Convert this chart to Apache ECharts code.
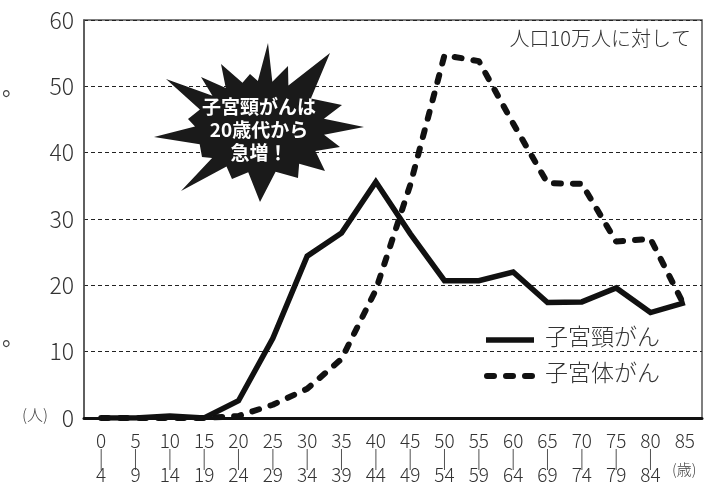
<!DOCTYPE html>
<html><head><meta charset="utf-8">
<script src="https://cdn.jsdelivr.net/npm/echarts@6/dist/echarts.min.js"></script>
<style>html,body{margin:0;padding:0;background:#fff}#c{width:728px;height:489px}</style>
</head><body><div id="c"></div>
<script>
const ageStart = ['0','5','10','15','20','25','30','35','40','45','50','55','60','65','70','75','80','85'];
const ageEnd   = ['4','9','14','19','24','29','34','39','44','49','54','59','64','69','74','79','84',''];
const cervical = [0, 0, 0.3, 0, 2.6, 12.0, 24.4, 27.9, 35.6, 27.8, 20.7, 20.7, 22.0, 17.4, 17.5, 19.6, 15.9, 17.4];
const uterine  = [0, 0, 0, 0, 0.3, 2.0, 4.4, 8.9, 19.3, 35.1, 54.7, 53.8, 44.4, 35.4, 35.3, 26.6, 27.0, 16.8];
const seriesNames = ['子宮頸がん', '子宮体がん'];

const categories = ageStart.map((s, i) => ageEnd[i] ? s + '\n|\n' + ageEnd[i] : s);
const FONT = '"Noto Sans CJK JP", "Noto Sans", sans-serif';

// starburst decoration: spike tips, valleys computed between them
function burst(cx, cy, tips, rx, ry) {
  const pts = [];
  for (let i = 0; i < tips.length; i++) {
    const t = tips[i], n = tips[(i + 1) % tips.length];
    pts.push(t);
    let a1 = Math.atan2((t[1] - cy) / ry, (t[0] - cx) / rx);
    let a2 = Math.atan2((n[1] - cy) / ry, (n[0] - cx) / rx);
    if (a2 < a1) a2 += Math.PI * 2;
    const am = (a1 + a2) / 2;
    pts.push([cx + Math.cos(am) * rx, cy + Math.sin(am) * ry]);
  }
  return pts;
}
const tips = [[268,43],[288,66],[330,53],[342,105],[364,127],[340,147],[325,171],[298,178],[260,202],[232,179],[181,191],[202,157],[154,137],[188,119],[166,79],[201,77],[221,64],[250,74]];

const chart = echarts.init(document.getElementById('c'), null, {renderer: 'canvas'});
chart.setOption({
  animation: false,
  grid: {left: 84, right: 26, top: 20, bottom: 71, show: true, borderColor: '#555', borderWidth: 1.5},
  xAxis: {
    type: 'category', data: categories, boundaryGap: true,
    axisLine: {lineStyle: {color: '#111', width: 3}},
    axisTick: {inside: true, length: 7, lineStyle: {color: '#333', width: 1}},
    axisLabel: {color: '#333', fontSize: 19, fontWeight: 300, lineHeight: 17, margin: 14, fontFamily: FONT, interval: 0, verticalAlign: 'top'}
  },
  yAxis: {
    type: 'value', min: 0, max: 60, interval: 10,
    axisLine: {show: true, lineStyle: {color: '#555', width: 1.5}},
    axisTick: {show: false},
    axisLabel: {color: '#333', fontSize: 23, fontWeight: 300, margin: 10, fontFamily: FONT},
    splitLine: {lineStyle: {color: '#222', width: 1, type: [4, 3]}}
  },
  series: [
    {name: seriesNames[0], type: 'line', data: cervical, showSymbol: false, symbol: 'none',
     lineStyle: {color: '#111', width: 5.5, join: 'miter'}, z: 3},
    {name: seriesNames[1], type: 'line', data: uterine, showSymbol: false, symbol: 'none',
     lineStyle: {color: '#111', width: 6, type: [7, 12], cap: 'round', join: 'round'}, z: 2}
  ],
  graphic: [
    {type: 'polygon', shape: {points: burst(260, 127, tips, 65, 46)}, style: {fill: '#1a1a1a'}, z: 10},
    {type: 'text', x: 259, y: 130, style: {text: '子宮頸がんは\n20歳代から\n急増！', fill: '#fff', font: 'bold 19px ' + FONT, align: 'center', verticalAlign: 'middle', lineHeight: 23}, z: 11},
    {type: 'text', right: 37, top: 28, style: {text: '人口10万人に対して', fill: '#333', font: '300 20px ' + FONT}, z: 11},
    {type: 'text', left: 22, top: 407, style: {text: '(人)', fill: '#444', font: '300 16px ' + FONT}},
    {type: 'text', left: 672, top: 462, style: {text: '(歳)', fill: '#444', font: '300 15px ' + FONT}},
    {type: 'text', left: 2, top: 76, style: {text: '。', fill: '#444', font: '22px ' + FONT}},
    {type: 'text', left: 2, top: 326, style: {text: '。', fill: '#444', font: '22px ' + FONT}},
    // legend
    {type: 'line', shape: {x1: 486, y1: 340, x2: 534, y2: 340}, style: {stroke: '#111', lineWidth: 5.5}, z: 12},
    {type: 'text', left: 545, top: 325, style: {text: seriesNames[0], fill: '#333', font: '300 23px ' + FONT}, z: 12},
    {type: 'line', shape: {x1: 487, y1: 376, x2: 534, y2: 376}, style: {stroke: '#111', lineWidth: 6, lineDash: [7, 12], lineCap: 'round'}, z: 12},
    {type: 'text', left: 545, top: 361, style: {text: seriesNames[1], fill: '#333', font: '300 23px ' + FONT}, z: 12}
  ]
});
</script></body></html>
